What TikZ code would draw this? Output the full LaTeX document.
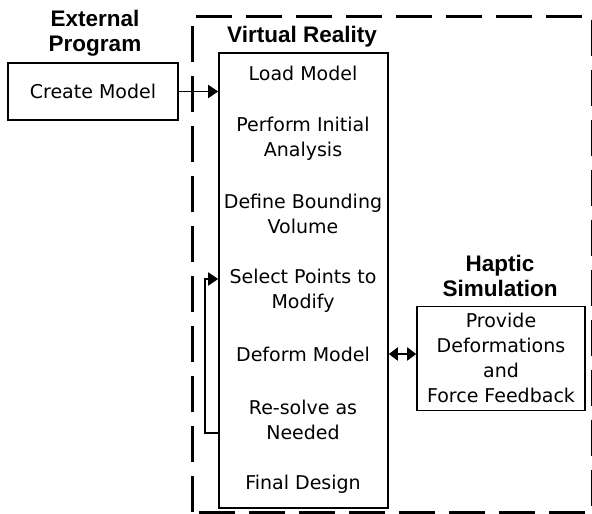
\documentclass[tikz,border=0pt]{standalone}
\usepackage{fontspec}
\setmainfont{DejaVu Sans}
\newfontfamily\headfont{Liberation Sans}
\usetikzlibrary{arrows.meta}
\begin{document}
\begin{tikzpicture}[x=1pt,y=-1pt,
  box/.style={draw,line width=1.6pt,inner sep=0pt},
  step label/.style={font=\fontsize{19}{25}\selectfont,align=center,inner sep=0pt},
  head label/.style={font=\headfont\bfseries\fontsize{22.5}{25}\selectfont,align=center,inner sep=0pt},
  flow/.style={line width=1.8pt,-{Triangle[length=10pt,width=13pt]}},
  both flow/.style={line width=1.8pt,{Triangle[length=9pt,width=13pt]}-{Triangle[length=9pt,width=13pt]}},
  region/.style={line width=3pt,dash pattern=on 36pt off 14pt}]
\useasboundingbox (0,0) rectangle (592,514);

% dashed frame of the virtual reality environment
\draw[region] (192,512) -- (192,16) -- (592.5,16) -- (592.5,512) -- cycle;

% external program
\node[head label] (exthead) at (95,33) {External\\Program};
\node[box,minimum width=170pt,minimum height=57pt] (create) at (93,91.5) {};
\node[step label] (createtxt) at (93,91) {Create Model};

% virtual reality process
\node[head label] (vrhead) at (302,37) {Virtual Reality};
\node[box,minimum width=169pt,minimum height=455pt] (vr) at (303.5,280.5) {};
\node[step label] (load) at (303,73) {Load Model};
\node[step label] (analysis) at (303,139) {Perform Initial\\Analysis};
\node[step label] (bound) at (303,214) {Define Bounding\\Volume};
\node[step label] (select) at (303,291) {Select Points to\\Modify};
\node[step label] (deform) at (303,354) {Deform Model};
\node[step label] (resolve) at (303,420) {Re-solve as\\Needed};
\node[step label] (final) at (303,484) {Final Design};

% haptic simulation
\node[head label] (haphead) at (500,276) {Haptic\\Simulation};
\node[box,minimum width=168pt,minimum height=104pt] (haptic) at (501,358.5) {};
\node[step label] (haptxt) at (501,358) {Provide\\Deformations\\and\\Force Feedback};

% connectors
\coordinate (loopout) at (vr.west |- 0,433);
\coordinate (loopin) at (vr.west |- 0,279);
\coordinate (loopbot) at (205,433);
\coordinate (looptop) at (205,279);
\draw[flow] (create.east) -- (create.east -| vr.west);
\draw[flow] (loopout) -- (loopbot) -- (looptop) -- (loopin);
\draw[both flow] (vr.east |- 0,354) -- (haptic.west |- 0,354);
\end{tikzpicture}
\end{document}
